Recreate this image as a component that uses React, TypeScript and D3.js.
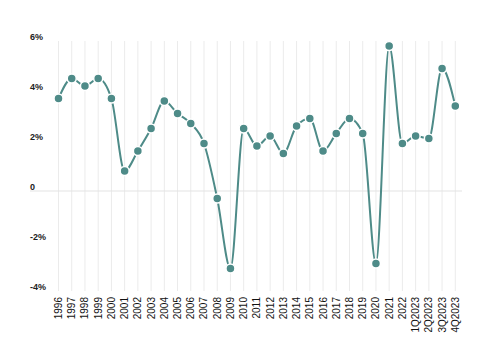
import React from "react";
import * as d3 from "d3";

// growth rate by year, then by quarter for 2023
const periods = [
  "1996", "1997", "1998", "1999", "2000", "2001", "2002", "2003", "2004", "2005",
  "2006", "2007", "2008", "2009", "2010", "2011", "2012", "2013", "2014", "2015",
  "2016", "2017", "2018", "2019", "2020", "2021", "2022",
  "1Q2023", "2Q2023", "3Q2023", "4Q2023",
];
const growth = [
  3.7, 4.5, 4.2, 4.5, 3.7, 0.8, 1.6, 2.5, 3.6, 3.1,
  2.7, 1.9, -0.3, -3.1, 2.5, 1.8, 2.2, 1.5, 2.6, 2.9,
  1.6, 2.3, 2.9, 2.3, -2.9, 5.8, 1.9,
  2.2, 2.1, 4.9, 3.4,
];
const yTicks = [6, 4, 2, 0, -2, -4];

const W = 500;
const H = 362;
const teal = "#4e8b88";
const font = "'Liberation Sans', Arial, sans-serif";

export default function App() {
  const x = d3.scalePoint<string>().domain(periods).range([58.5, 455.3]);
  const y = d3.scaleLinear().domain([-4, 6]).range([291, 41]);

  const rows = periods.map((p, i) => ({ p, v: growth[i] }));
  const line = d3
    .line<{ p: string; v: number }>()
    .x((d) => x(d.p) as number)
    .y((d) => y(d.v))
    .curve(d3.curveMonotoneX);

  return (
    <svg
      width={W}
      height={H}
      style={{ position: "absolute", left: 0, top: 0, background: "#fff" }}
    >
      {/* vertical grid */}
      {periods.map((p) => (
        <line
          key={p}
          x1={x(p)}
          x2={x(p)}
          y1={y(6)}
          y2={y(-4)}
          stroke="#ebebeb"
          strokeWidth={1}
        />
      ))}
      <line x1={30} x2={462} y1={y(0)} y2={y(0)} stroke="#e3e3e3" strokeWidth={1} />

      {yTicks.map((t) => (
        <text
          key={t}
          x={30}
          y={y(t) - 1}
          fontFamily={font}
          fontSize={9}
          fontWeight="bold"
          fill="#222"
        >
          {t === 0 ? "0" : `${t}%`}
        </text>
      ))}

      {periods.map((p) => (
        <text
          key={p}
          transform={`translate(${x(p)},297) rotate(-90)`}
          textAnchor="end"
          dy="0.35em"
          fontFamily={font}
          fontSize={10}
          fill="#111"
        >
          {p}
        </text>
      ))}

      <path d={line(rows) ?? ""} fill="none" stroke={teal} strokeWidth={2} />

      {rows.map((d) => (
        <circle
          key={d.p}
          cx={x(d.p)}
          cy={y(d.v)}
          r={4.5}
          fill={teal}
          stroke="#fff"
          strokeWidth={1.5}
        />
      ))}
    </svg>
  );
}
